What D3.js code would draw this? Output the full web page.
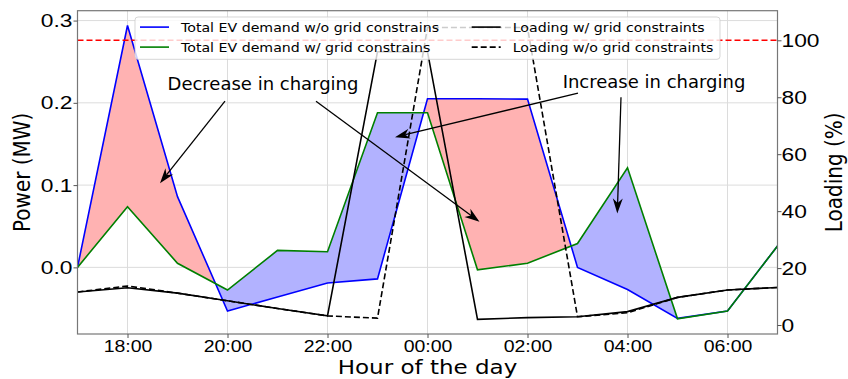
<!DOCTYPE html>
<html>
<head>
<meta charset="utf-8">
<script src="https://cdn.jsdelivr.net/npm/d3@7"></script>
<style>
  body { margin: 0; background: #fff; }
  svg { display: block; font-family: "DejaVu Sans", sans-serif; }
  .tick text { fill: #000; transform-box: fill-box; }
  .x-axis .tick text { font-size: 16.5px; transform-origin: 50% 0%; transform: scaleX(1.18); }
  .yl-axis .tick text { font-size: 19px; transform-origin: 100% 50%; transform: scaleX(1.2); }
  .yr-axis .tick text { font-size: 19px; transform-origin: 0% 50%; transform: scaleX(1.2); }
  .tick line { stroke: #555; }
  .domain { display: none; }
</style>
</head>
<body>
<svg id="chart" width="848" height="379"></svg>
<script>
// hours from 17:00 to 07:00 next day (24+ = after midnight)
const hours = [17, 18, 19, 20, 21, 22, 23, 24, 25, 26, 27, 28, 29, 30, 31];
const tickHours = [18, 20, 22, 24, 26, 28, 30];
const tickLabels = ["18:00", "20:00", "22:00", "00:00", "02:00", "04:00", "06:00"];
const powerTicks = [0.0, 0.1, 0.2, 0.3];
const loadingTicks = [0, 20, 40, 60, 80, 100];

// power (MW), left axis
const demandNoGrid = [0.0, 0.294, 0.086, -0.053, -0.036, -0.019, -0.014, 0.205, 0.205, 0.2045, 0.0, -0.027, -0.062, -0.053, 0.026];
const demandGrid = [0.0, 0.0737, 0.005, -0.0276, 0.0206, 0.019, 0.188, 0.188, -0.003, 0.005, 0.029, 0.121, -0.0625, -0.053, 0.026];
// transformer loading (%), right axis
const loadingGrid = [11.6, 13.1, 11.2, 8.5, 5.8, 3.2, 96, 96, 2.0, 2.6, 2.9, 4.7, 9.7, 12.3, 13.2];
const loadingNoGrid = [11.6, 13.7, 11.2, 8.5, 5.8, 3.2, 2.4, 104.5, 104.5, 104.5, 2.9, 4.3, 9.7, 12.3, 13.2];
const loadingLimit = 100;

const legendLabels = [
  "Total EV demand w/o grid constrains",
  "Total EV demand w/ grid constrains",
  "Loading w/ grid constraints",
  "Loading w/o grid constraints"
];

// annotation text anchor and arrows, in (hour, MW)
const annotations = [
  { text: "Decrease in charging", at: [20.71, 0.2154],
    arrows: [[[19.95, 0.202], [18.65, 0.1024]], [[21.77, 0.202], [25.04, 0.0554]]] },
  { text: "Increase in charging", at: [28.53, 0.2175],
    arrows: [[[27.01, 0.2118], [23.35, 0.1583]], [[27.87, 0.2069], [27.796, 0.0656]]] }
];

const svg = d3.select("#chart");
const plotLeft = 77.5, plotRight = 777.5, plotTop = 10.7, plotBottom = 334;

const x = d3.scaleLinear().domain([17, 31]).range([plotLeft, plotRight]);
const yP = d3.scaleLinear().domain([-0.081, 0.312]).range([plotBottom, plotTop]);
const yL = d3.scaleLinear().domain([-3.16, 110.4]).range([plotBottom, plotTop]);

svg.append("clipPath").attr("id", "plot-clip")
  .append("rect").attr("x", plotLeft).attr("y", plotTop)
  .attr("width", plotRight - plotLeft).attr("height", plotBottom - plotTop);

// grid
const grid = svg.append("g").attr("stroke", "#dcdcdc").attr("stroke-width", 1);
grid.selectAll(".gx").data(tickHours).join("line")
  .attr("x1", d => x(d)).attr("x2", d => x(d))
  .attr("y1", plotTop).attr("y2", plotBottom);
grid.selectAll(".gy").data(powerTicks).join("line")
  .attr("x1", plotLeft).attr("x2", plotRight)
  .attr("y1", d => yP(d)).attr("y2", d => yP(d));

// fill between the two demand curves, with crossing points inserted
const dense = [];
hours.forEach((h, i) => {
  if (i > 0) {
    const dp = demandNoGrid[i - 1] - demandGrid[i - 1];
    const d = demandNoGrid[i] - demandGrid[i];
    if (dp * d < 0) {
      const t = dp / (dp - d);
      const yc = demandNoGrid[i - 1] + t * (demandNoGrid[i] - demandNoGrid[i - 1]);
      dense.push({ h: hours[i - 1] + t * (h - hours[i - 1]), a: yc, b: yc });
    }
  }
  dense.push({ h: h, a: demandNoGrid[i], b: demandGrid[i] });
});

const plot = svg.append("g").attr("clip-path", "url(#plot-clip)");

plot.append("path").datum(dense)
  .attr("fill", "#ffb2b2")
  .attr("d", d3.area().x(d => x(d.h)).y0(d => yP(d.b)).y1(d => yP(Math.max(d.a, d.b))));
plot.append("path").datum(dense)
  .attr("fill", "#b2b2ff")
  .attr("d", d3.area().x(d => x(d.h)).y0(d => yP(d.a)).y1(d => yP(Math.max(d.a, d.b))));

const powerLine = d3.line().x((d, i) => x(hours[i])).y(d => yP(d));
const loadLine = d3.line().x((d, i) => x(hours[i])).y(d => yL(d));

plot.append("path").datum(demandNoGrid)
  .attr("fill", "none").attr("stroke", "#0000ff").attr("stroke-width", 1.6)
  .attr("d", powerLine);
plot.append("path").datum(demandGrid)
  .attr("fill", "none").attr("stroke", "#008000").attr("stroke-width", 1.6)
  .attr("d", powerLine);

plot.append("path").datum(loadingGrid)
  .attr("fill", "none").attr("stroke", "#000").attr("stroke-width", 1.6)
  .attr("d", loadLine);
plot.append("path").datum(loadingNoGrid)
  .attr("fill", "none").attr("stroke", "#000").attr("stroke-width", 1.6)
  .attr("stroke-dasharray", "6,3")
  .attr("d", loadLine);

plot.append("line")
  .attr("x1", plotLeft).attr("x2", plotRight)
  .attr("y1", yL(loadingLimit)).attr("y2", yL(loadingLimit))
  .attr("stroke", "#ff0000").attr("stroke-width", 1.6)
  .attr("stroke-dasharray", "6,3");

// frame
svg.append("rect")
  .attr("x", plotLeft).attr("y", plotTop)
  .attr("width", plotRight - plotLeft).attr("height", plotBottom - plotTop)
  .attr("fill", "none").attr("stroke", "#777").attr("stroke-width", 1.2);

// axes
svg.append("g").attr("class", "x-axis")
  .attr("transform", `translate(0,${plotBottom})`)
  .call(d3.axisBottom(x).tickValues(tickHours)
    .tickFormat((d, i) => tickLabels[i])
    .tickSize(4).tickSizeOuter(0).tickPadding(2));

svg.append("g").attr("class", "yl-axis")
  .attr("transform", `translate(${plotLeft},0)`)
  .call(d3.axisLeft(yP).tickValues(powerTicks)
    .tickFormat(d3.format(".1f"))
    .tickSize(4).tickSizeOuter(0).tickPadding(1));

svg.append("g").attr("class", "yr-axis")
  .attr("transform", `translate(${plotRight},0)`)
  .call(d3.axisRight(yL).tickValues(loadingTicks)
    .tickSize(4).tickSizeOuter(0).tickPadding(0));

// stretched text helper
function label(g, txt, px, py, fs, sx, anchor, rot) {
  return g.append("text")
    .attr("transform", `translate(${px},${py}) scale(${sx},1)` + (rot ? ` rotate(${rot})` : ""))
    .attr("font-size", fs)
    .attr("text-anchor", anchor)
    .attr("fill", "#000")
    .text(txt);
}

label(svg, "Hour of the day", (plotLeft + plotRight) / 2, 374, 19.5, 1.18, "middle");
label(svg, "Power (MW)", 30, (plotTop + plotBottom) / 2, 20, 1.18, "middle", -90);
label(svg, "Loading (%)", 842, (plotTop + plotBottom) / 2, 20, 1.18, "middle", -90);

// annotations
const ann = svg.append("g");
annotations.forEach(a => {
  label(ann, a.text, x(a.at[0]), yP(a.at[1]), 18, 1.0, "middle");
  a.arrows.forEach(([s, e]) => {
    const p0 = [x(s[0]), yP(s[1])], p1 = [x(e[0]), yP(e[1])];
    const dx = p1[0] - p0[0], dy = p1[1] - p0[1];
    const len = Math.hypot(dx, dy);
    const ux = dx / len, uy = dy / len, nx = -uy, ny = ux;
    const L = 15, w = 5;
    ann.append("line")
      .attr("x1", p0[0]).attr("y1", p0[1])
      .attr("x2", p1[0] - ux * L * 0.7).attr("y2", p1[1] - uy * L * 0.7)
      .attr("stroke", "#000").attr("stroke-width", 1.3);
    const pts = [
      [p1[0], p1[1]],
      [p1[0] - ux * L + nx * w, p1[1] - uy * L + ny * w],
      [p1[0] - ux * L * 0.7, p1[1] - uy * L * 0.7],
      [p1[0] - ux * L - nx * w, p1[1] - uy * L - ny * w]
    ];
    ann.append("path").attr("d", "M" + pts.join("L") + "Z").attr("fill", "#000");
  });
});

// legend
const lg = svg.append("g");
lg.append("rect")
  .attr("x", 135).attr("y", 17).attr("width", 585).attr("height", 42.3)
  .attr("rx", 3)
  .attr("fill", "#fff").attr("fill-opacity", 0.8)
  .attr("stroke", "#ccc").attr("stroke-opacity", 0.8);
const legendStyle = [
  { color: "#0000ff", dash: null, col: 0, row: 0 },
  { color: "#008000", dash: null, col: 0, row: 1 },
  { color: "#000", dash: null, col: 1, row: 0 },
  { color: "#000", dash: "6,3", col: 1, row: 1 }
];
const colX = [140, 471.7];
legendLabels.forEach((t, i) => {
  const st = legendStyle[i];
  const base = 31.7 + st.row * 20;
  lg.append("line")
    .attr("x1", colX[st.col]).attr("x2", colX[st.col] + 29)
    .attr("y1", base - 4.6).attr("y2", base - 4.6)
    .attr("stroke", st.color).attr("stroke-width", 1.6)
    .attr("stroke-dasharray", st.dash);
  label(lg, t, colX[st.col] + 41, base, 13, 1.09, "start");
});
</script>
</body>
</html>
